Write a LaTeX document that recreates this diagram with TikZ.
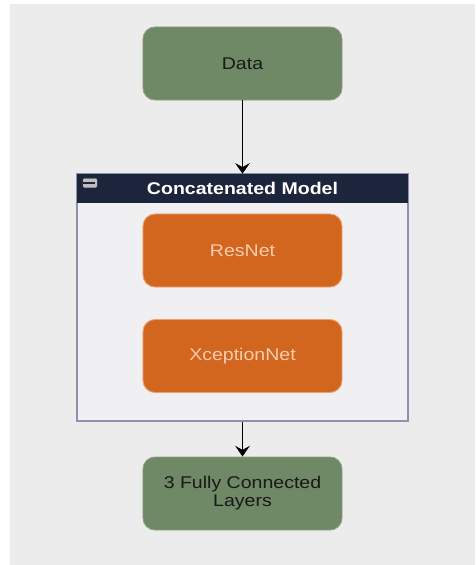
\documentclass[tikz,border=0pt]{standalone}
\usepackage{fontspec}
\setmainfont{Liberation Sans}[FakeStretch=1.15]
\usetikzlibrary{arrows.meta}
\definecolor{bggray}{RGB}{236,236,236}
\definecolor{innergray}{RGB}{240,240,242}
\definecolor{boxgreen}{RGB}{111,136,101}
\definecolor{greenline}{RGB}{140,160,130}
\definecolor{boxorange}{RGB}{210,102,30}
\definecolor{orangeline}{RGB}{240,160,110}
\definecolor{peach}{RGB}{248,205,175}
\definecolor{navy}{RGB}{28,37,60}
\definecolor{frameline}{RGB}{140,146,172}
\tikzset{
  greenbox/.style={draw=greenline, line width=0.8pt, fill=boxgreen, rounded corners=0.36cm,
    minimum width=5.97cm, minimum height=2.19cm, align=center, font=\fontsize{14.5}{15.5}\selectfont, text=black!90},
  orangebox/.style={draw=orangeline, line width=0.8pt, fill=boxorange, rounded corners=0.36cm,
    minimum width=5.97cm, minimum height=2.19cm, font=\fontsize{14.5}{15.5}\selectfont, text=peach}
}
\begin{document}
\begin{tikzpicture}[x=0.03cm, y=-0.03cm, >={Stealth[length=3.2mm,width=4.4mm,inset=1.2mm]}]
\useasboundingbox (0,0) rectangle (475,565);
\fill[bggray] (10,4) rectangle (475,565);

\node(Data)[greenbox] at (242.5,63.5) {Data};

% container with its title bar
\node(Model)[draw=frameline, line width=1pt, fill=innergray, rectangle, minimum width=9.93cm, minimum height=7.41cm, inner sep=0pt] at (242.5,297.5) {};
\node(Title)[fill=navy, rectangle, minimum width=9.93cm, minimum height=0.87cm, inner sep=0pt, text=white, font=\bfseries\fontsize{14.5}{15}\selectfont] at (242.5,188.5) {Concatenated Model};
\node(Minus)[fill=black!25, draw=black!40, rounded corners=1pt, minimum width=0.42cm, minimum height=0.27cm, inner sep=0pt] at (90,183) {};
\draw[navy, line width=1.2pt] (Minus.west) ++(0.06,0) -- ([xshift=-0.06cm]Minus.east);

\node(Res)[orangebox] at (242.5,250.5) {ResNet};
\node(Xcep)[orangebox] at (242.5,356) {XceptionNet};

\node(FC)[greenbox] at (242.5,493.5) {3 Fully Connected\\Layers};

\draw[->, line width=0.9pt] (Data.south) -- (Title.north);
\draw[->, line width=0.9pt] (Model.south) -- (FC.north);
\end{tikzpicture}
\end{document}
